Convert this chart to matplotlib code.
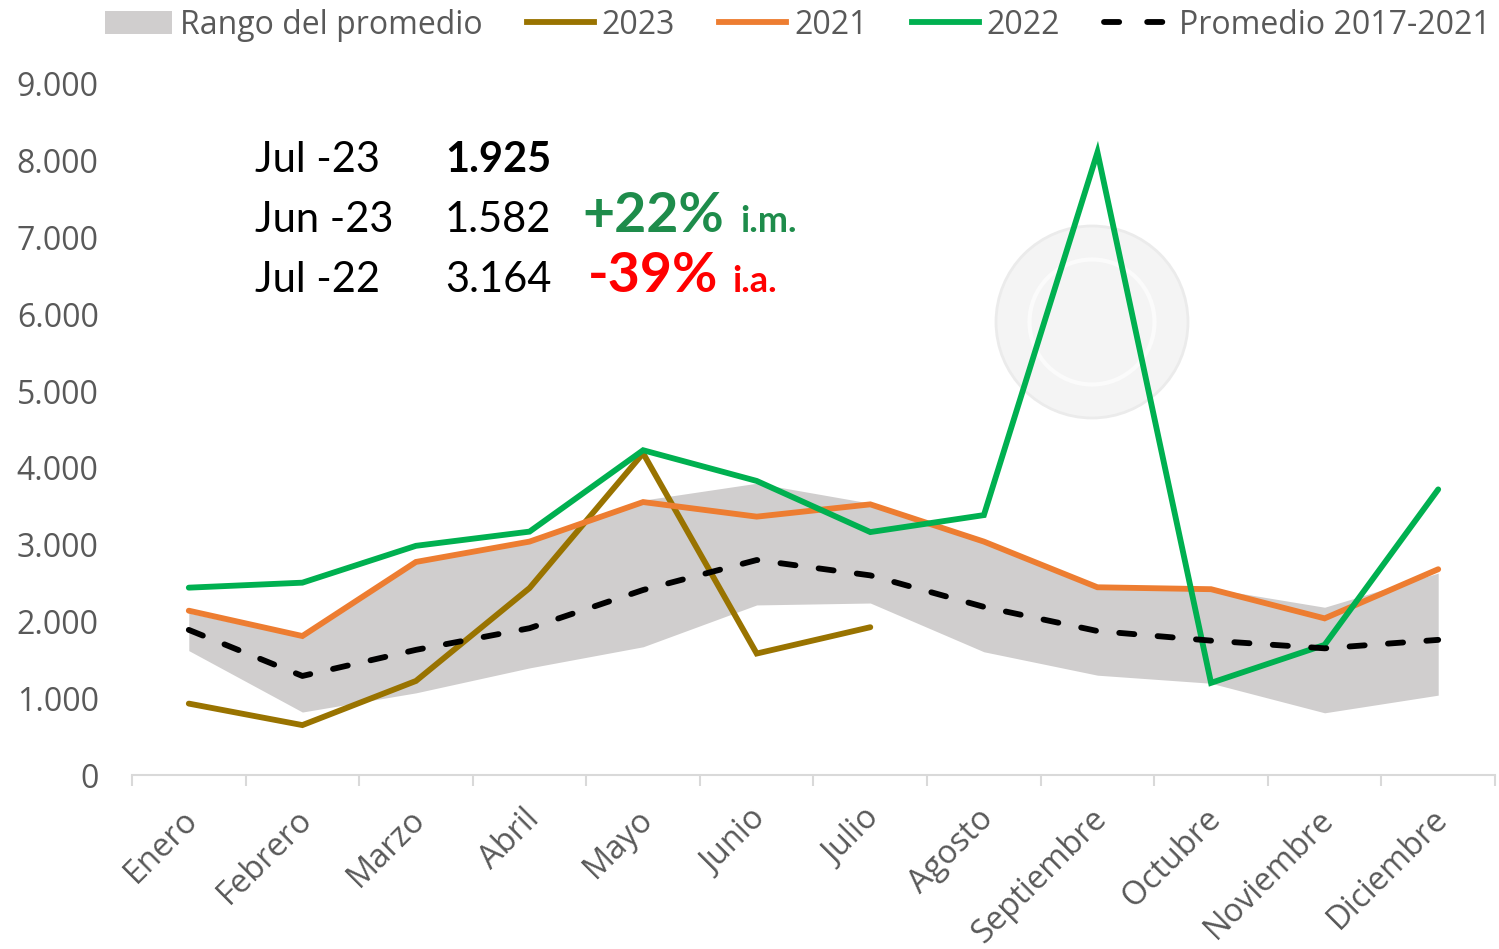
import matplotlib
matplotlib.use("Agg")
import matplotlib.pyplot as plt
from matplotlib.patches import Patch, Ellipse
from matplotlib.lines import Line2D
from matplotlib.ticker import FuncFormatter, FixedLocator
from matplotlib.transforms import ScaledTranslation
import numpy as np

plt.rcParams["font.family"] = ["Open Sans", "DejaVu Sans"]

meses = ["Enero", "Febrero", "Marzo", "Abril", "Mayo", "Junio", "Julio",
         "Agosto", "Septiembre", "Octubre", "Noviembre", "Diciembre"]
v2023 = [930, 650, 1225, 2435, 4190, 1582, 1925]
v2021 = [2140, 1810, 2775, 3040, 3555, 3365, 3525, 3040, 2445, 2420, 2040, 2680]
v2022 = [2440, 2505, 2985, 3170, 4230, 3830, 3164, 3385, 8110, 1200, 1695, 3720]
promedio = [1890, 1290, 1630, 1912, 2410, 2800, 2600, 2190, 1875, 1750, 1650, 1760]
rango_max = [2110, 1790, 2760, 3020, 3580, 3800, 3540, 3030, 2460, 2430, 2185, 2630]
rango_min = [1620, 820, 1070, 1395, 1670, 2215, 2240, 1605, 1300, 1195, 810, 1040]

C2023 = "#997300"
C2021 = "#ED7D31"
C2022 = "#00B050"
CBAND = "#D0CECE"
TXT = "#595959"

W, H = 1499, 949
fig = plt.figure(figsize=(W / 100, H / 100), dpi=100)
ax = fig.add_axes([132 / W, 1 - 775 / H, (1495 - 132) / W, (775 - 84) / H])

x = np.arange(len(meses))
ax.fill_between(x, rango_min, rango_max, color=CBAND, lw=0, zorder=1)

# faint watermark seal
ax.add_patch(Ellipse((1092 / W, 1 - 322 / H), 192 / W, 192 / H, transform=fig.transFigure,
                     facecolor="#F4F4F4", edgecolor="#EBEBEB", lw=2, zorder=0.5))
ax.add_patch(Ellipse((1092 / W, 1 - 322 / H), 125 / W, 125 / H, transform=fig.transFigure,
                     facecolor="none", edgecolor="#FBFBFB", lw=3, zorder=0.6))

lw = 4.2
ax.plot(x[:len(v2023)], v2023, color=C2023, lw=lw, zorder=3, solid_capstyle="round", solid_joinstyle="miter")
ax.plot(x, v2021, color=C2021, lw=lw, zorder=3, solid_capstyle="round", solid_joinstyle="miter")
ax.plot(x, v2022, color=C2022, lw=lw, zorder=4, solid_capstyle="round", solid_joinstyle="miter")
ax.plot(x, promedio, color="black", lw=lw, zorder=5, dashes=(2.6, 4.0), dash_capstyle="round")

ax.set_xlim(-0.5, len(meses) - 0.5)
ax.set_ylim(0, 9000)
ax.yaxis.set_major_locator(FixedLocator(np.arange(0, 9001, 1000)))
ax.yaxis.set_major_formatter(FuncFormatter(lambda v, p: f"{v:,.0f}".replace(",", ".")))

for s in ["top", "right", "left"]:
    ax.spines[s].set_visible(False)
ax.spines["bottom"].set_color("#D9D9D9")
ax.spines["bottom"].set_linewidth(1.5)

ax.set_xticks(x)
ax.set_xticklabels(meses, rotation=45, ha="right", va="top", rotation_mode="anchor",
                   fontsize=23.5, color=TXT)
ax.set_xticks(np.arange(-0.5, len(meses), 1), minor=True)
ax.tick_params(axis="x", which="major", length=0, pad=20)
ax.tick_params(axis="x", which="minor", length=8, width=1.5, color="#D9D9D9")
ax.tick_params(axis="y", length=0, pad=24, labelsize=23, labelcolor=TXT)
off = ScaledTranslation(-7 / 100, 0, fig.dpi_scale_trans)
for t in ax.get_xticklabels():
    t.set_transform(t.get_transform() + off)

# Legend
handles = [
    Patch(facecolor=CBAND, edgecolor="none"),
    Line2D([], [], color=C2023, lw=lw),
    Line2D([], [], color=C2021, lw=lw),
    Line2D([], [], color=C2022, lw=lw),
    Line2D([], [], color="black", lw=lw, dashes=(2.6, 4.8), dash_capstyle="round"),
]
labels = ["Rango del promedio", "2023", "2021", "2022", "Promedio 2017-2021"]
leg = fig.legend(handles, labels, loc="upper left", bbox_to_anchor=(76 / W, 1.021), ncol=5,
                 frameon=False, prop={"family": "Open Sans", "size": 23},
                 handlelength=2.1, handletextpad=0.25, columnspacing=1.38, handleheight=0.75)
for t in leg.get_texts():
    t.set_color(TXT)

# Annotations
fa = "Lato"
fs = 30
rows = [172, 232, 292]
fig.text(255 / W, 1 - rows[0] / H, "Jul -23", fontfamily=fa, fontsize=fs, va="baseline")
fig.text(445 / W, 1 - rows[0] / H, "1.925", fontfamily=fa, fontsize=fs, fontweight="bold", va="baseline")
fig.text(255 / W, 1 - rows[1] / H, "Jun -23", fontfamily=fa, fontsize=fs, va="baseline")
fig.text(445 / W, 1 - rows[1] / H, "1.582", fontfamily=fa, fontsize=fs, va="baseline")
fig.text(582 / W, 1 - rows[1] / H, "+22%", fontfamily=fa, fontsize=40, fontweight="bold",
         color="#1E8C4B", va="baseline")
fig.text(740 / W, 1 - rows[1] / H, "i.m.", fontfamily=fa, fontsize=26, fontweight="bold",
         color="#1E8C4B", va="baseline")
fig.text(255 / W, 1 - rows[2] / H, "Jul -22", fontfamily=fa, fontsize=fs, va="baseline")
fig.text(445 / W, 1 - rows[2] / H, "3.164", fontfamily=fa, fontsize=fs, va="baseline")
fig.text(588 / W, 1 - rows[2] / H, "-39%", fontfamily=fa, fontsize=40, fontweight="bold",
         color="#FF0000", va="baseline")
fig.text(732 / W, 1 - rows[2] / H, "i.a.", fontfamily=fa, fontsize=26, fontweight="bold",
         color="#FF0000", va="baseline")

fig.savefig("out.png", dpi=100)
